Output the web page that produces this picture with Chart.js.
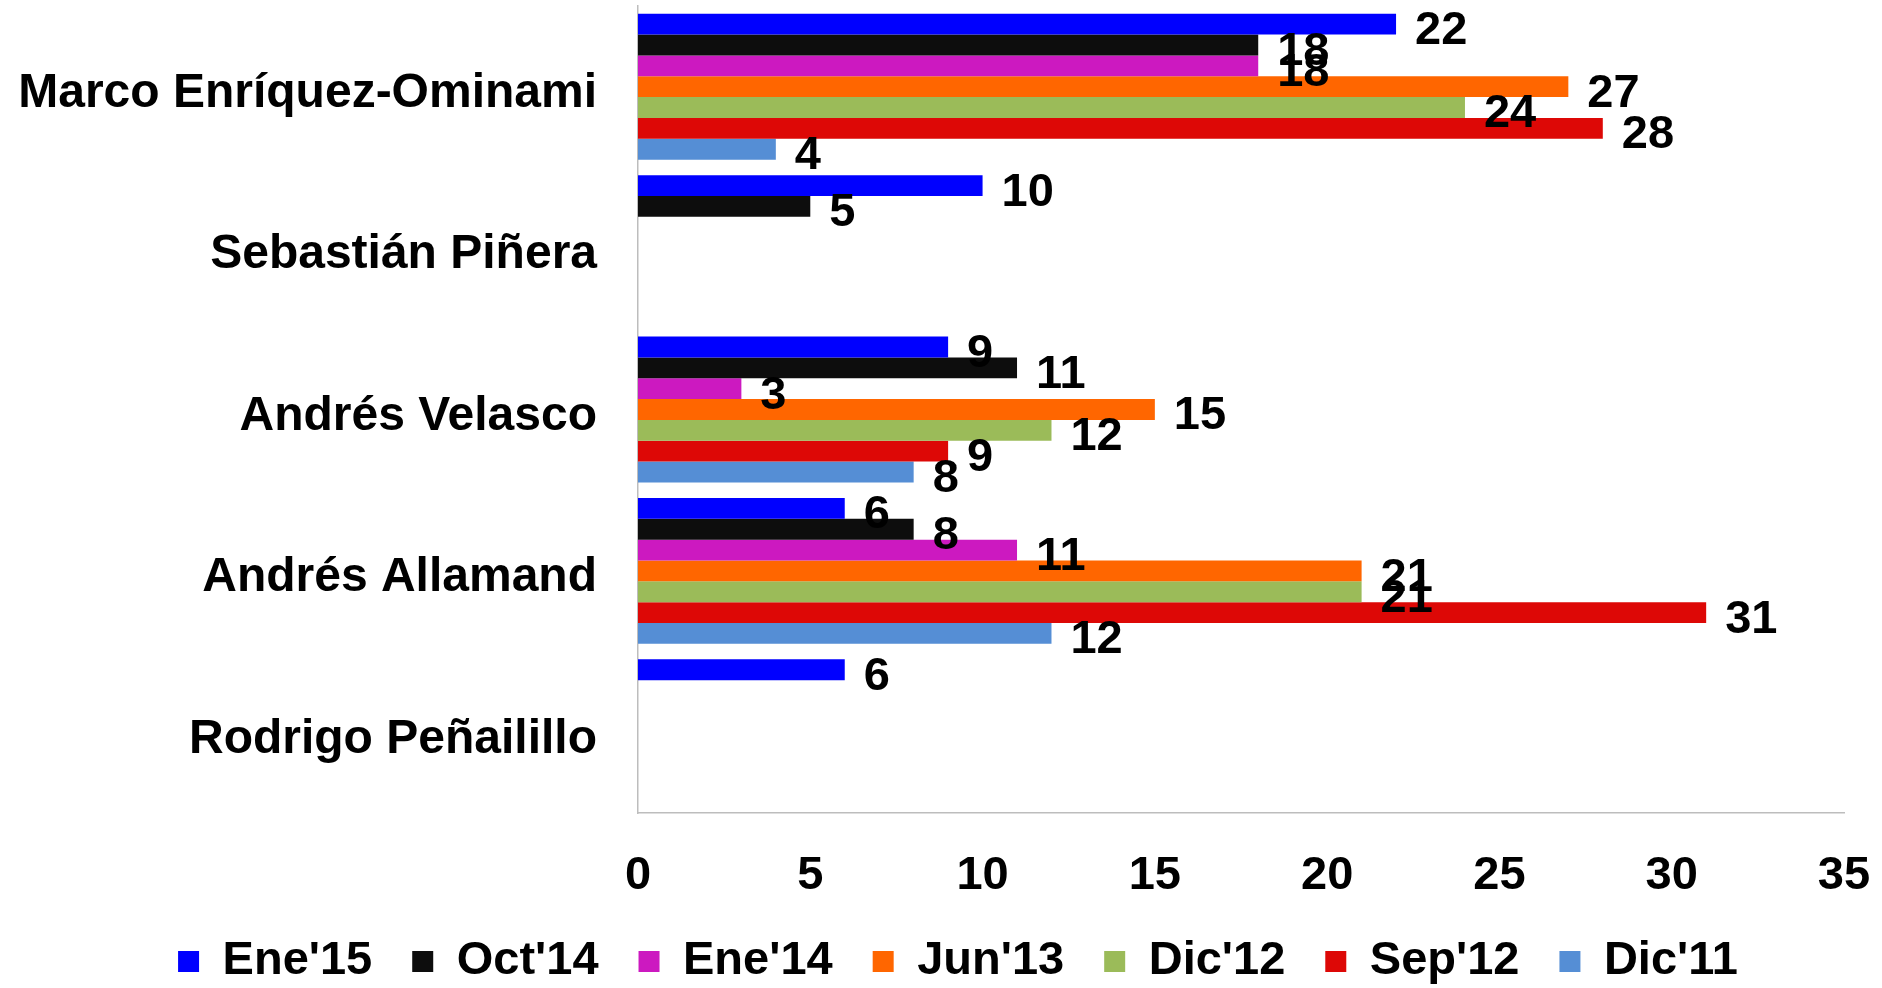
<!DOCTYPE html>
<html>
<head>
<meta charset="utf-8">
<script src="https://cdn.jsdelivr.net/npm/chart.js@4"></script>
<style>
  html, body { margin: 0; padding: 0; background: #fff; }
  #wrap { width: 1882px; height: 988px; }
</style>
</head>
<body>
<div id="wrap"><canvas id="c" width="1882" height="988"></canvas></div>
<script>
const categories = ["Marco Enríquez-Ominami", "Sebastián Piñera", "Andrés Velasco", "Andrés Allamand", "Rodrigo Peñailillo"];
const seriesNames = ["Ene'15", "Oct'14", "Ene'14", "Jun'13", "Dic'12", "Sep'12", "Dic'11"];
const ene15 = [22, 10, 9, 6, 6];
const oct14 = [18, 5, 11, 8, null];
const ene14 = [18, null, 3, 11, null];
const jun13 = [27, null, 15, 21, null];
const dic12 = [24, null, 12, 21, null];
const sep12 = [28, null, 9, 31, null];
const dic11 = [4, null, 8, 12, null];
const xTicks = [0, 5, 10, 15, 20, 25, 30, 35];
const colors = ["#0000FF", "#0D0D0D", "#CC19C0", "#FF6600", "#9BBB59", "#DD0806", "#558ED5"];

const seriesValues = [ene15, oct14, ene14, jun13, dic12, sep12, dic11];
const FONT = "'Liberation Sans', Arial, sans-serif";

const valueLabels = {
  id: 'valueLabels',
  afterLayout(chart) {
    const lg = chart.legend;
    if (lg) { lg.left += 27; lg.right += 27; }
  },
  afterDatasetsDraw(chart) {
    const ctx = chart.ctx;
    ctx.save();
    ctx.font = "bold 47px " + FONT;
    ctx.fillStyle = "#000";
    ctx.textAlign = "left";
    ctx.textBaseline = "middle";
    chart.data.datasets.forEach((ds, di) => {
      const meta = chart.getDatasetMeta(di);
      meta.data.forEach((bar, i) => {
        const v = ds.data[i];
        if (v === null || v === undefined) return;
        ctx.fillText(String(v), bar.x + 19, bar.y + 7);
      });
    });
    ctx.restore();
  }
};

new Chart(document.getElementById('c'), {
  type: 'bar',
  data: {
    labels: categories,
    datasets: seriesNames.map((n, i) => ({
      label: n,
      data: seriesValues[i],
      backgroundColor: colors[i],
      borderWidth: 0,
      categoryPercentage: 0.904,
      barPercentage: 1.0
    }))
  },
  options: {
    indexAxis: 'y',
    responsive: false,
    animation: false,
    devicePixelRatio: 1,
    layout: { padding: { left: 18, right: 38, top: 6, bottom: -7 } },
    scales: {
      x: {
        min: 0, max: 35,
        afterBuildTicks(axis) { axis.ticks = xTicks.map(v => ({ value: v })); },
        grid: { display: false, drawTicks: false },
        border: { display: true, color: '#BDBDBD', width: 1.5 },
        ticks: { padding: 35, color: '#000', font: { family: FONT, size: 47, weight: 'bold' } },
        afterFit(axis) { axis.height = 85; axis.paddingLeft = 0; axis.paddingRight = 0; }
      },
      y: {
        grid: { display: false, drawTicks: false },
        border: { display: true, color: '#BDBDBD', width: 1.5 },
        ticks: { padding: 41, labelOffset: 7, color: '#000', font: { family: FONT, size: 48, weight: 'bold' } },
        afterFit(axis) { axis.width = 620; axis.paddingTop = 0; axis.paddingBottom = 0; }
      }
    },
    plugins: {
      legend: {
        position: 'bottom',
        labels: {
          boxWidth: 21, boxHeight: 21, padding: 40, color: '#000',
          font: { family: FONT, size: 47, weight: 'bold' }
        }
      },
      tooltip: { enabled: false }
    }
  },
  plugins: [valueLabels]
});
</script>
</body>
</html>
